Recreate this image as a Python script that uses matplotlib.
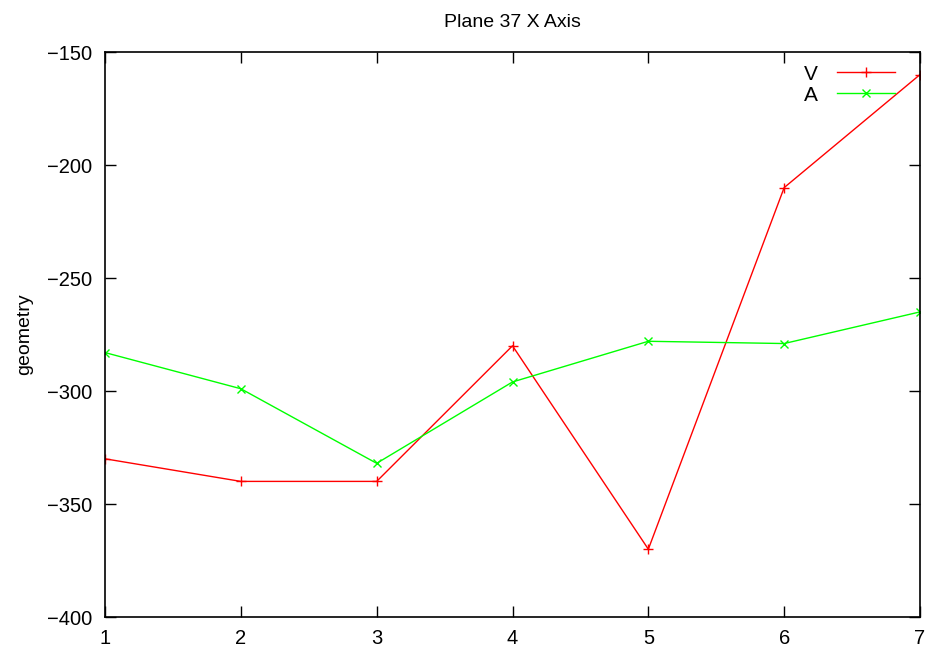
import matplotlib
matplotlib.use("Agg")
import matplotlib.pyplot as plt

plt.rcParams['font.family'] = ['Liberation Sans', 'DejaVu Sans']

x = [1, 2, 3, 4, 5, 6, 7]
v_vals = [-330, -340, -340, -280, -370, -210, -160]
a_vals = [-283, -299, -332, -296, -278, -279, -265]
xticks = [1, 2, 3, 4, 5, 6, 7]
yticks = [-400, -350, -300, -250, -200, -150]

fig = plt.figure(figsize=(9.34, 6.53), dpi=100)
ax = fig.add_axes([105/934, 1-617/653, (920-105)/934, (617-52)/653])

ax.plot(x, v_vals, color='#ff0000', lw=1, marker='+', ms=7, mew=1, label='V')
ax.plot(x, a_vals, color='#00ff00', lw=1, marker='x', ms=6, mew=1, label='A')

ax.set_xlim(1, 7)
ax.set_ylim(-400, -150)
ax.set_xticks(xticks)
ax.set_yticks(yticks)
ax.set_yticklabels([str(t).replace('-', '\u2212') for t in yticks])
ax.tick_params(direction='in', top=True, right=True, length=8, width=1, labelsize=14.5, pad=9)
for s in ax.spines.values():
    s.set_linewidth(1.2)

ax.set_title('Plane 37 X Axis', fontsize=14, pad=18)
ax.set_ylabel('geometry', fontsize=14, labelpad=10)

leg = ax.legend(loc='upper right', frameon=False, markerfirst=False, fontsize=15,
                handlelength=2.8, handletextpad=0.9, borderaxespad=0.2,
                labelspacing=0.1, bbox_to_anchor=(0.985, 1.0))

fig.savefig('out.png', dpi=100)
